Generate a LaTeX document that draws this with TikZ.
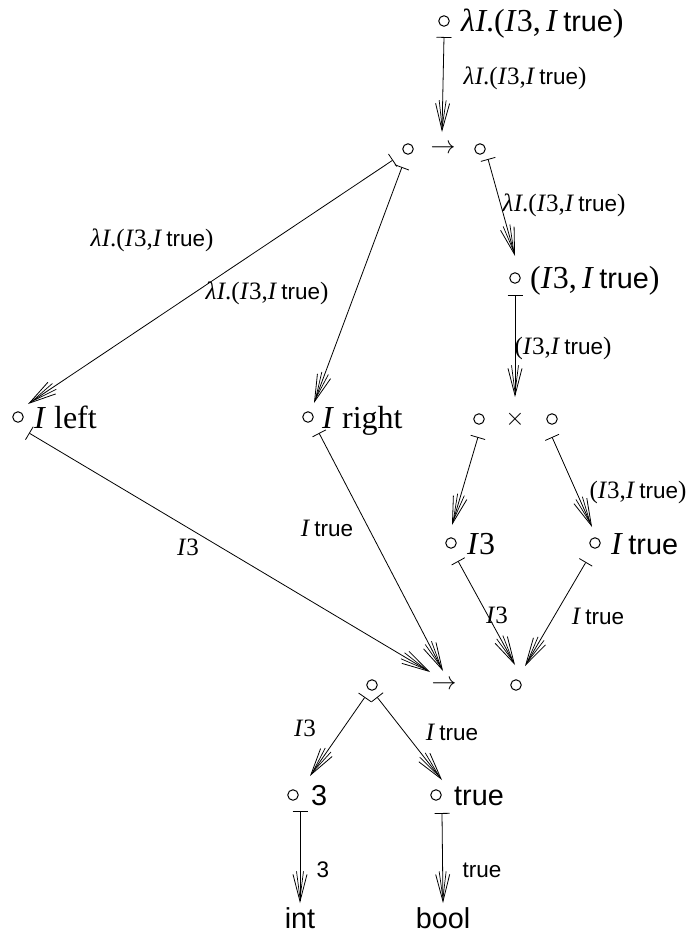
\documentclass[tikz,border=0pt]{standalone}
\usepackage{fontspec}
\setmainfont{Liberation Serif}
\setsansfont[Scale=0.9]{Liberation Sans}
\usetikzlibrary{arrows.meta}
\newcommand\vI{\textit{I}}
\newcommand\tru{\textsf{true}}
\newcommand\lamI{\textit{λ}\kern0.5pt\vI}
\tikzset{
  pt/.style={circle,draw,line width=1pt,minimum size=10.5pt,inner sep=0pt},
  big/.style={inner sep=0pt,font=\fontsize{32}{36}\selectfont},
  lbl/.style={inner sep=0pt,font=\fontsize{25}{29}\selectfont},
  mapsto/.style={line width=0.8pt,
    {Bar[width=15pt,line width=0.8pt]}-{Straight Barb[length=27pt,width=7pt,line width=0.7pt,sep=-27pt]Straight Barb[length=27pt,width=14pt,line width=0.8pt]}}
}
\begin{document}
\begin{tikzpicture}[x=1pt,y=-1pt]
\useasboundingbox (0,0) rectangle (688,935);
% points (circles)
\node[pt] (c0) at (444,21) {};
\node[pt] (c1) at (408,149) {};
\node[pt] (c2) at (480,149) {};
\node[pt] (cp) at (515,278) {};
\node[pt] (cx1) at (479,419) {};
\node[pt] (cx2) at (552,419) {};
\node[pt] (cl) at (18,417) {};
\node[pt] (cr) at (308,417) {};
\node[pt] (ci3) at (451,543) {};
\node[pt] (cit) at (595,543) {};
\node[pt] (d1) at (372,685) {};
\node[pt] (d2) at (516,685) {};
\node[pt] (c3) at (293,795) {};
\node[pt] (ct) at (436,795) {};
% symbols
\node[big] (arr1) at (443,149) {$\rightarrow$};
\node[big] (times) at (515,419) {$\times$};
\node[big] (arr2) at (444,685) {$\rightarrow$};
% texts
\node[big,anchor=base west] (t0) at (461,31) {\lamI.(\vI3,\,\vI\,\tru)};
\node[big,anchor=base west] (tp) at (530,288) {(\vI3,\,\vI\,\tru)};
\node[big,anchor=base west] (tl) at (34,428) {\vI\ left};
\node[big,anchor=base west] (tr) at (322,428) {\vI\ right};
\node[big,anchor=base west] (ti3) at (467,554) {\vI3};
\node[big,anchor=base west] (tit) at (611,554) {\vI\,\tru};
\node[big,anchor=base west] (t3) at (311,805) {\textsf{3}};
\node[big,anchor=base west] (tt) at (454,805) {\tru};
\node[big] (int) at (300,918) {\textsf{int}};
\node[big] (bool) at (443,918) {\textsf{bool}};
% edges
\draw[mapsto] ([shift={(0,16)}]c0.center) -- ([shift={(-1,-17)}]arr1.center);
\draw[mapsto] ([shift={(-15,11)}]c1.center) -- ([shift={(10,-13)}]cl.center);
\draw[mapsto] ([shift={(-6,18)}]c1.center) -- ([shift={(6,-14)}]cr.center);
\draw[mapsto] ([shift={(8,10)}]c2.center) -- ([shift={(0,-22)}]cp.center);
\draw[mapsto] ([shift={(0,17)}]cp.center) -- ([shift={(0,-22)}]times.center);
\draw[mapsto] ([shift={(-1,18)}]cx1.center) -- ([shift={(1,-18)}]ci3.center);
\draw[mapsto] ([shift={(0,18)}]cx2.center) -- ([shift={(-3,-16)}]cit.center);
\draw[mapsto] ([shift={(11,16)}]cl.center) -- ([shift={(-14,-13)}]arr2.center);
\draw[mapsto] ([shift={(11,16)}]cr.center) -- ([shift={(-1,-14)}]arr2.center);
\draw[mapsto] ([shift={(7,18)}]ci3.center) -- ([shift={(-1,-20)}]d2.center);
\draw[mapsto] ([shift={(-9,19)}]cit.center) -- ([shift={(9,-19)}]d2.center);
\draw[mapsto] ([shift={(-7,12)}]d1.center) -- ([shift={(17,-19)}]c3.center);
\draw[mapsto] ([shift={(5,12)}]d1.center) -- ([shift={(6,-15)}]ct.center);
\draw[mapsto] ([shift={(7,16)}]c3.center) -- ([shift={(0,-15)}]int.center);
\draw[mapsto] ([shift={(6,18)}]ct.center) -- ([shift={(0,-15)}]bool.center);
% labels
\node[lbl] (l0) at (525,78) {\lamI.(\vI3,\vI\,\tru)};
\node[lbl] (l1) at (152,240) {\lamI.(\vI3,\vI\,\tru)};
\node[lbl] (l2) at (267,293) {\lamI.(\vI3,\vI\,\tru)};
\node[lbl] (l3) at (564,205) {\lamI.(\vI3,\vI\,\tru)};
\node[lbl] (l4) at (563,348) {(\vI3,\vI\,\tru)};
\node[lbl] (l5) at (638,492) {(\vI3,\vI\,\tru)};
\node[lbl] (l6) at (188,547) {\vI3};
\node[lbl] (l7) at (327,528) {\vI\,\tru};
\node[lbl] (l8) at (497,615) {\vI3};
\node[lbl] (l9) at (598,616) {\vI\,\tru};
\node[lbl] (l10) at (305,728) {\vI3};
\node[lbl] (l11) at (452,732) {\vI\,\tru};
\node[lbl] (l12) at (323,870) {\textsf{3}};
\node[lbl] (l13) at (482,870) {\tru};
\end{tikzpicture}
\end{document}
